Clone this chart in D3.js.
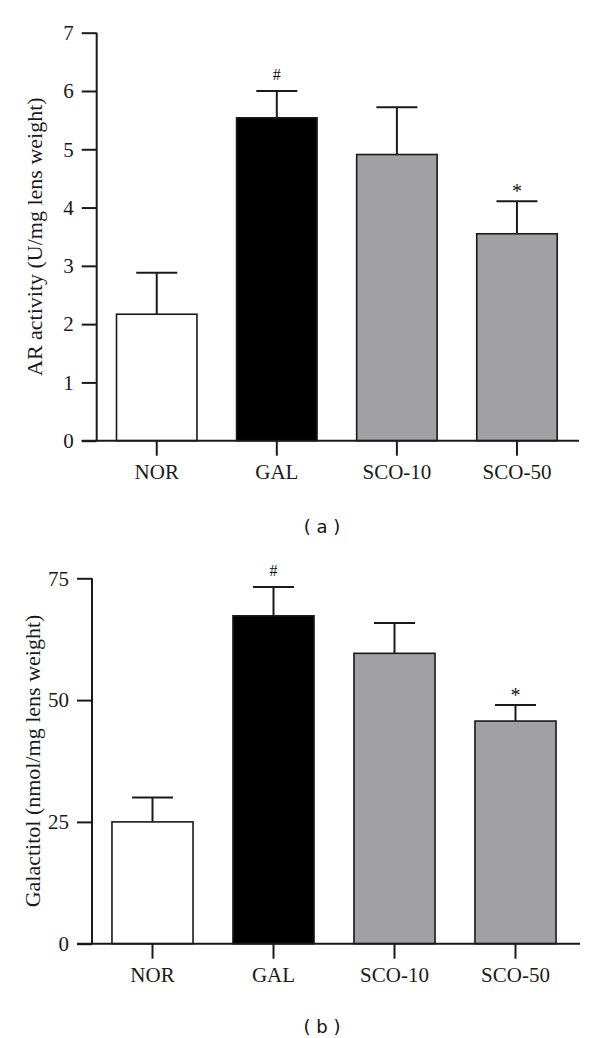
<!DOCTYPE html>
<html><head><meta charset="utf-8">
<script src="https://cdn.jsdelivr.net/npm/d3@7"></script>
<style>html,body{margin:0;padding:0;background:#fff;}</style>
</head><body>
<script>
const categories = ["NOR", "GAL", "SCO-10", "SCO-50"];
const arValues = [2.17, 5.54, 4.91, 3.55];
const arErrors = [0.71, 0.46, 0.81, 0.56];
const arTicks = [0, 1, 2, 3, 4, 5, 6, 7];
const galValues = [25.0, 67.3, 59.6, 45.7];
const galErrors = [5.0, 5.9, 6.2, 3.3];
const galTicks = [0, 25, 50, 75];
const marks = ["", "#", "", "*"];
const fills = ["#ffffff", "#000000", "#a1a1a5", "#a1a1a5"];

const svg = d3.select("body").append("svg").attr("width", 600).attr("height", 1038);
const serif = "'Liberation Serif', 'Times New Roman', serif";

function panel(cfg) {
  const g = svg.append("g");
  const y = d3.scaleLinear().domain(cfg.domain).range([cfg.y0, cfg.yTop]);
  const x = d3.scaleBand().domain(categories).range([cfg.ax, cfg.xEnd]).paddingInner(0.33).paddingOuter(0.165);

  const data = categories.map((c, i) => ({c, v: cfg.values[i], e: cfg.errors[i], m: marks[i], f: fills[i]}));
  g.selectAll(".err").data(data).enter().append("line")
    .attr("x1", d => x(d.c) + x.bandwidth() / 2).attr("x2", d => x(d.c) + x.bandwidth() / 2)
    .attr("y1", d => y(d.v)).attr("y2", d => y(d.v + d.e))
    .attr("stroke", "#1a1a1a").attr("stroke-width", 2);
  g.selectAll(".cap").data(data).enter().append("line")
    .attr("x1", d => x(d.c) + x.bandwidth() / 2 - 20.5).attr("x2", d => x(d.c) + x.bandwidth() / 2 + 20.5)
    .attr("y1", d => y(d.v + d.e)).attr("y2", d => y(d.v + d.e))
    .attr("stroke", "#1a1a1a").attr("stroke-width", 2);
  g.selectAll(".bar").data(data).enter().append("rect")
    .attr("x", d => x(d.c)).attr("width", x.bandwidth())
    .attr("y", d => y(d.v)).attr("height", d => y(0) - y(d.v))
    .attr("fill", d => d.f).attr("stroke", "#1a1a1a").attr("stroke-width", 1.6);
  g.selectAll(".mark").data(data.filter(d => d.m)).enter().append("text")
    .attr("x", d => x(d.c) + x.bandwidth() / 2).attr("y", d => y(d.v + d.e) - (d.m === "#" ? 11 : 3))
    .attr("text-anchor", "middle").attr("font-family", serif).attr("font-size", d => d.m === "#" ? 16 : 20)
    .attr("fill", "#111").text(d => d.m);

  const yAxis = d3.axisLeft(y).tickValues(cfg.ticks).tickSize(15).tickPadding(8).tickFormat(d3.format("d"));
  const ya = g.append("g").attr("transform", `translate(${cfg.ax},0)`).call(yAxis);
  ya.select(".domain").attr("stroke", "#1a1a1a").attr("stroke-width", 2).attr("d", `M0,${cfg.y0}V${cfg.yTop}`);
  ya.selectAll(".tick line").attr("stroke", "#1a1a1a").attr("stroke-width", 2);
  ya.selectAll(".tick text").attr("font-family", serif).attr("font-size", 21).attr("fill", "#1a1a1a");

  const xAxis = d3.axisBottom(x).tickSize(15).tickPadding(8);
  const xa = g.append("g").attr("transform", `translate(0,${cfg.y0})`).call(xAxis);
  xa.select(".domain").attr("stroke", "#1a1a1a").attr("stroke-width", 2).attr("d", `M${cfg.ax - 15},0H${cfg.axisEnd}`);
  xa.selectAll(".tick line").attr("stroke", "#1a1a1a").attr("stroke-width", 2);
  xa.selectAll(".tick text").attr("font-family", serif).attr("font-size", 21).attr("fill", "#1a1a1a");

  g.append("text").attr("transform", `translate(${cfg.titleX},${(cfg.y0 + cfg.yTop) / 2}) rotate(-90)`)
    .attr("text-anchor", "middle").attr("dominant-baseline", "central")
    .attr("font-family", serif).attr("font-size", 22).attr("fill", "#1a1a1a").text(cfg.title);

  g.append("text").attr("x", 322).attr("y", cfg.labelY).attr("text-anchor", "middle")
    .attr("font-family", "'DejaVu Sans', Verdana, sans-serif").attr("font-size", 18).attr("fill", "#111")
    .text(cfg.label);
}

panel({domain: [0, 7], ticks: arTicks, values: arValues, errors: arErrors,
  y0: 440.7, yTop: 32.7, ax: 96.7, xEnd: 577, axisEnd: 579,
  title: "AR activity (U/mg lens weight)", titleX: 34, label: "( a )", labelY: 533});
panel({domain: [0, 75], ticks: galTicks, values: galValues, errors: galErrors,
  y0: 943.7, yTop: 578.3, ax: 92, xEnd: 576, axisEnd: 580,
  title: "Galactitol (nmol/mg lens weight)", titleX: 32, label: "( b )", labelY: 1033});
</script>
</body></html>
